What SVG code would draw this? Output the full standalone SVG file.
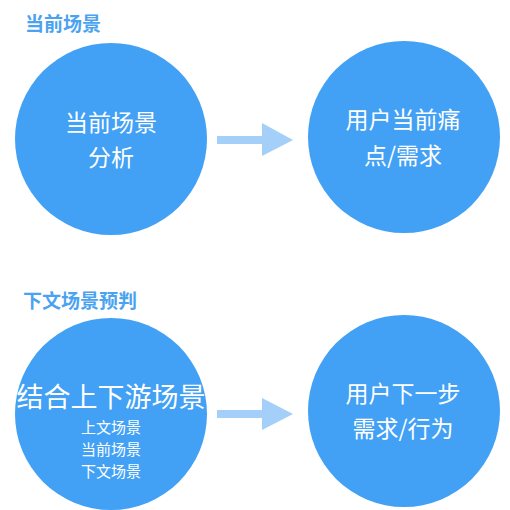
<svg xmlns="http://www.w3.org/2000/svg" width="510" height="510" viewBox="0 0 510 510">
<style>
.c{fill:#42a1f5}
.t{font-family:"Noto Sans CJK SC","Noto Sans",sans-serif;fill:#fff;text-anchor:middle}
.h{font-family:"Noto Sans CJK SC","Noto Sans",sans-serif;fill:#4aa3f0;font-weight:bold;font-size:19px}
.a{fill:#a3cff8}
</style>
<rect width="510" height="510" fill="#fff"/>
<text class="h" x="25" y="31">当前场景</text>
<text class="h" x="23" y="308">下文场景预判</text>
<g id="n1"><circle class="c" cx="111" cy="139" r="96"/>
<text class="t" font-size="23" x="111" y="131">当前场景</text>
<text class="t" font-size="23" x="111" y="166">分析</text></g>
<g id="n2"><circle class="c" cx="404" cy="137" r="96"/>
<text class="t" font-size="23" x="403" y="128">用户当前痛</text>
<text class="t" font-size="23" x="403" y="164">点/需求</text></g>
<g id="n3"><circle class="c" cx="111" cy="414" r="96"/>
<text class="t" font-size="27" x="111" y="407">结合上下游场景</text>
<text class="t" font-size="15" x="111" y="433">上文场景</text>
<text class="t" font-size="15" x="111" y="455">当前场景</text>
<text class="t" font-size="15" x="111" y="477">下文场景</text></g>
<g id="n4"><circle class="c" cx="404" cy="411" r="96"/>
<text class="t" font-size="23" x="403" y="402">用户下一步</text>
<text class="t" font-size="23" x="403" y="437">需求/行为</text></g>
<g id="connectors">
<path class="a" d="M217 136H262V123L293 140L262 156V144H217Z"/>
<path class="a" d="M217 410H262V398L293 414L262 430V418H217Z"/>
</g>
</svg>
